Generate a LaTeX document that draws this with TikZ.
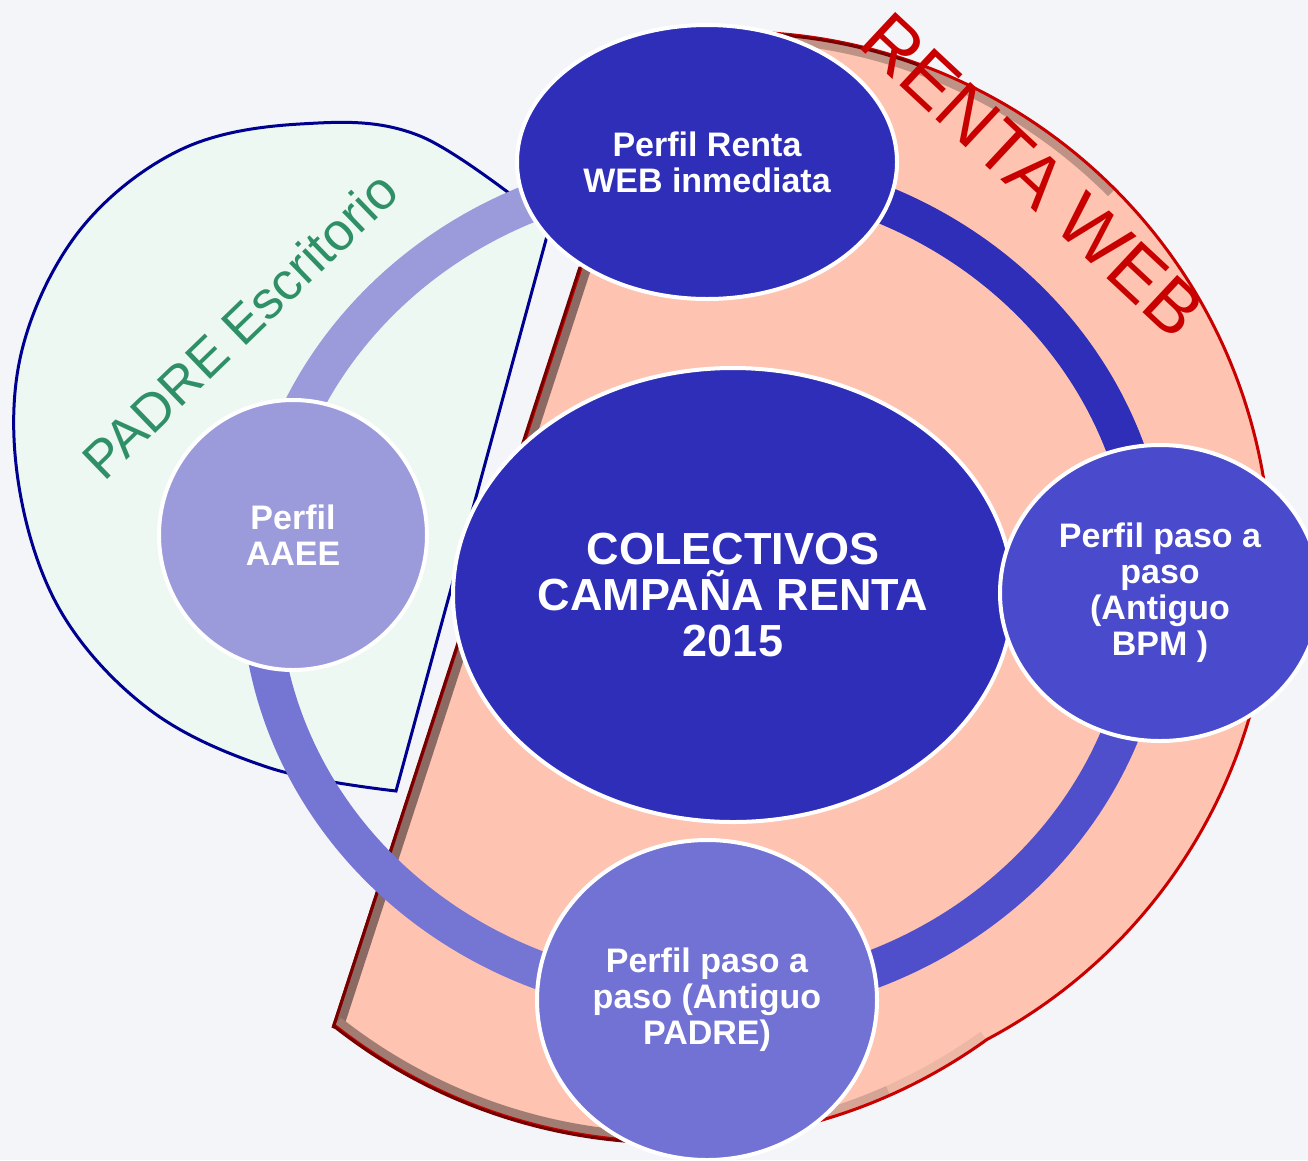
\documentclass[tikz,border=0pt]{standalone}
\usepackage{fontspec}
\setmainfont{Liberation Sans}
\usetikzlibrary{shapes.geometric}
\definecolor{bgc}{HTML}{F4F5F9}
\definecolor{padrefill}{HTML}{EEF8F2}
\definecolor{padreline}{HTML}{000090}
\definecolor{padregreen}{HTML}{2F9068}
\definecolor{salmon}{HTML}{FEC4B1}
\definecolor{rentared}{HTML}{C80000}
\definecolor{rentadark}{HTML}{760000}
\definecolor{shadowbrown}{HTML}{8A6A62}
\definecolor{cA}{HTML}{2E2EB8}
\definecolor{cB}{HTML}{4A4ACC}
\definecolor{cC}{HTML}{7272D4}
\definecolor{cD}{HTML}{9B9BDB}
\definecolor{ringB}{HTML}{4F4FCC}
\definecolor{ringC}{HTML}{7575D4}
\begin{document}
\begin{tikzpicture}[x=1pt,y=-1pt,
  prof/.style={ellipse, draw=white, line width=4pt, inner sep=0pt, text=white, align=center,
    font=\fontsize{34}{36}\selectfont\bfseries},
  seg/.style={line width=38pt}]
\useasboundingbox (0,0) rectangle (1308,1160);
\clip (0,0) rectangle (1308,1160);
\fill[bgc] (0,0) rectangle (1308,1160);

\filldraw[fill=padrefill, draw=padreline, line width=3pt] plot[smooth, tension=0.6] coordinates {(550,225)
  (420,136) (300,124) (180,150) (80,230) (22,350) (18,480) (60,610) (150,710) (270,768) (396,791)} -- cycle;

\coordinate (webc) at (736,568);
\coordinate (lowc) at (670,601);
\filldraw[fill=salmon, draw=rentared, line width=3pt,
  path picture={
    \draw[shadowbrown, line width=20pt] (333,1028) -- (656,38);
    \draw[shadowbrown!15!salmon, line width=22pt] (lowc) ++(54.2:542) arc[start angle=54.2, end angle=66, radius=542];
    \draw[shadowbrown!35!salmon, line width=22pt] (lowc) ++(66:542) arc[start angle=66, end angle=80, radius=542];
    \draw[shadowbrown!80!salmon, line width=22pt] (lowc) ++(80:542) arc[start angle=80, end angle=128.3, radius=542];
    \draw[shadowbrown!55!salmon, line width=18pt] (webc) ++(-98.6:535) arc[start angle=-98.6, end angle=-45, radius=535];
  }] (333,1028) -- (656,38) arc[start angle=-98.6, end angle=62, radius=535]
  arc[start angle=54.2, end angle=128.3, radius=542] -- cycle;
\draw[rentadark, line width=3pt] (333,1028) -- (580,267);
\draw[rentadark, line width=3pt] (lowc) ++(75:542) arc[start angle=75, end angle=128.3, radius=542];
\draw[rentadark, line width=3pt] (webc) ++(-98.6:535) arc[start angle=-98.6, end angle=-70, radius=535];

\coordinate (ringc) at (705,585);
\draw[seg, cD] (ringc) ++(180:445 and 415) arc[start angle=180, end angle=270, x radius=445, y radius=415];
\draw[seg, cA] (ringc) ++(270:445 and 415) arc[start angle=270, end angle=360, x radius=445, y radius=415];
\draw[seg, ringB] (ringc) ++(0:445 and 415) arc[start angle=0, end angle=90, x radius=445, y radius=415];
\draw[seg, ringC] (ringc) ++(90:445 and 415) arc[start angle=90, end angle=180, x radius=445, y radius=415];

\node[prof, fill=cA, minimum width=560pt, minimum height=454pt,
  font=\fontsize{45}{46}\selectfont\bfseries] (colectivos) at (733,595) {COLECTIVOS\\CAMPAÑA RENTA\\2015};
\node[prof, fill=cA, minimum width=380pt, minimum height=274pt] (inmediata) at (707,162) {Perfil Renta\\WEB inmediata};
\node[prof, fill=cB, minimum width=320pt, minimum height=296pt] (bpm) at (1160,593) {Perfil paso a\\paso\\(Antiguo\\BPM )};
\node[prof, fill=cC, minimum width=340pt, minimum height=320pt] (padre) at (707,1000) {Perfil paso a\\paso (Antiguo\\PADRE)};
\node[prof, fill=cD, minimum width=268pt, minimum height=270pt] (aaee) at (293,535) {Perfil\\AAEE};

\node[rotate=-43, text=rentared, font=\fontsize{74}{74}\selectfont] (rentaweb) at (1033,175) {RENTA WEB};
\node[rotate=44, text=padregreen, font=\fontsize{53}{53}\selectfont] (escritorio) at (240,325) {PADRE Escritorio};
\end{tikzpicture}
\end{document}
